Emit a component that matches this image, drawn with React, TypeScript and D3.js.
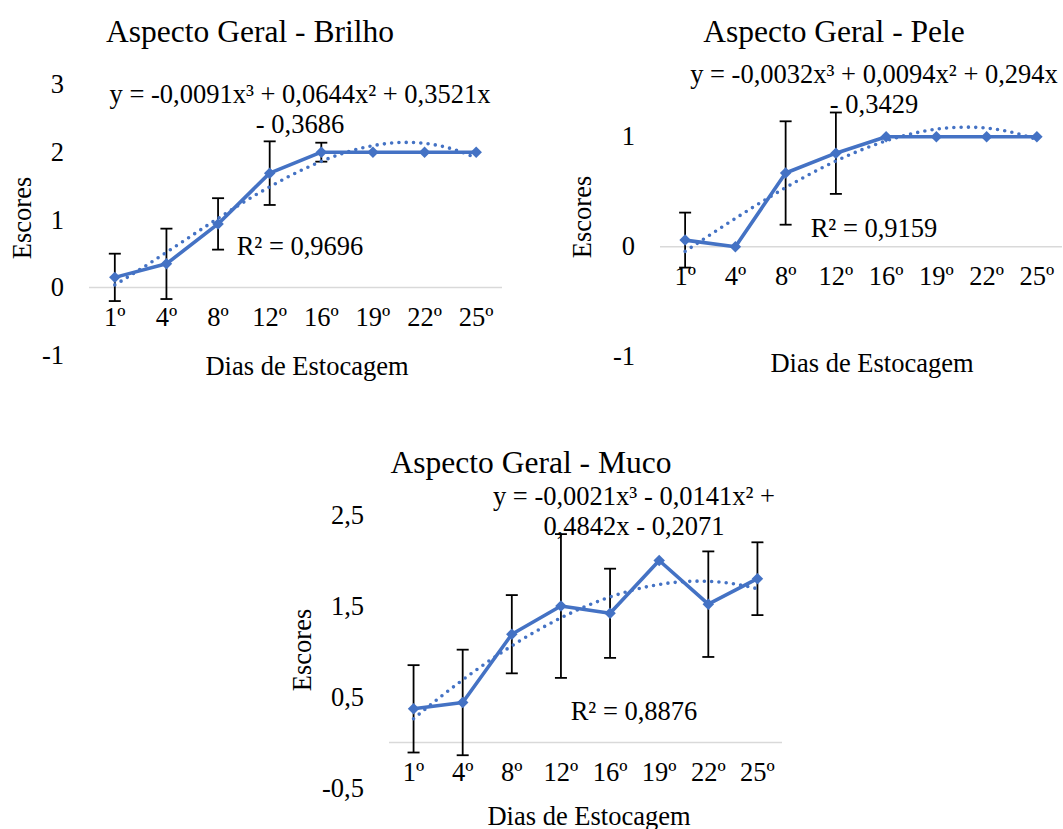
import React from "react";
import * as d3 from "d3";

// categories (dias de estocagem)
const categories = ["1º", "4º", "8º", "12º", "16º", "19º", "22º", "25º"];

// Brilho
const brilhoMeans = [0.15, 0.35, 0.94, 1.69, 2.0, 2.0, 2.0, 2.0];
const brilhoErrors = [0.35, 0.52, 0.38, 0.47, 0.14, 0, 0, 0];
const brilhoCoef = [-0.0091, 0.0644, 0.3521, -0.3686];
const brilhoTicks = [-1, 0, 1, 2, 3];

// Pele
const peleMeans = [0.06, 0.0, 0.67, 0.85, 1.0, 1.0, 1.0, 1.0];
const peleErrors = [0.25, 0, 0.47, 0.37, 0, 0, 0, 0];
const peleCoef = [-0.0032, 0.0094, 0.294, -0.3429];
const peleTicks = [-1, 0, 1];

// Muco
const mucoMeans = [0.37, 0.44, 1.19, 1.5, 1.42, 2.0, 1.52, 1.8];
const mucoErrors = [0.48, 0.58, 0.43, 0.79, 0.49, 0, 0.58, 0.4];
const mucoCoef = [-0.0021, -0.0141, 0.4842, -0.2071];
const mucoTicks = [-0.5, 0.5, 1.5, 2.5];

const BLUE = "#4472C4";
const FONT = "'Liberation Serif', 'Times New Roman', serif";
const FS = 26.5;
const fmt = (v: number) => String(v).replace(".", ",");

type Cfg = {
  title: string;
  titleX: number;
  titleY: number;
  means: number[];
  errors: number[];
  coef: number[];
  ticks: number[];
  left: number;
  right: number;
  domain: [number, number];
  range: [number, number];
  tickLabelX: number;
  yTitleX: number;
  yTitleY: number;
  xTitleX: number;
  xTitleY: number;
  eq: string[];
  eqX: number;
  eqY: number;
  r2: string;
  r2X: number;
  r2Y: number;
};

const charts: Cfg[] = [
  {
    title: "Aspecto Geral - Brilho",
    titleX: 250,
    titleY: 42,
    means: brilhoMeans,
    errors: brilhoErrors,
    coef: brilhoCoef,
    ticks: brilhoTicks,
    left: 89,
    right: 502,
    domain: [-1, 3],
    range: [355.2, 84.5],
    tickLabelX: 64,
    yTitleX: 31,
    yTitleY: 218,
    xTitleX: 307,
    xTitleY: 375,
    eq: ["y = -0,0091x³ + 0,0644x² + 0,3521x", "- 0,3686"],
    eqX: 300,
    eqY: 103,
    r2: "R² = 0,9696",
    r2X: 300,
    r2Y: 255,
  },
  {
    title: "Aspecto Geral - Pele",
    titleX: 834,
    titleY: 42,
    means: peleMeans,
    errors: peleErrors,
    coef: peleCoef,
    ticks: peleTicks,
    left: 660,
    right: 1062,
    domain: [-1, 1],
    range: [356.7, 136.7],
    tickLabelX: 635,
    yTitleX: 591,
    yTitleY: 217,
    xTitleX: 872,
    xTitleY: 372,
    eq: ["y = -0,0032x³ + 0,0094x² + 0,294x", "- 0,3429"],
    eqX: 874,
    eqY: 83,
    r2: "R² = 0,9159",
    r2X: 874,
    r2Y: 237,
  },
  {
    title: "Aspecto Geral - Muco",
    titleX: 531,
    titleY: 473,
    means: mucoMeans,
    errors: mucoErrors,
    coef: mucoCoef,
    ticks: mucoTicks,
    left: 389,
    right: 782,
    domain: [-0.5, 2.5],
    range: [788, 515],
    tickLabelX: 364,
    yTitleX: 311,
    yTitleY: 650,
    xTitleX: 589,
    xTitleY: 825,
    eq: ["y = -0,0021x³ - 0,0141x² +", "0,4842x - 0,2071"],
    eqX: 634,
    eqY: 505,
    r2: "R² = 0,8876",
    r2X: 634,
    r2Y: 720,
  },
];

function Chart({ cfg }: { cfg: Cfg }) {
  const x = d3.scaleBand().domain(categories).range([cfg.left, cfg.right]);
  const xi = d3.scaleLinear().domain([0.5, categories.length + 0.5]).range([cfg.left, cfg.right]);
  const y = d3.scaleLinear().domain(cfg.domain).range(cfg.range);
  const cx = (c: string) => (x(c) as number) + x.bandwidth() / 2;

  const line = d3
    .line<number>()
    .x((_, i) => cx(categories[i]))
    .y((d) => y(d));

  // polynomial trendline from the displayed equation
  const [a, b, c, d] = cfg.coef;
  const trendX = d3.range(1, categories.length + 0.001, 0.05);
  const trend = d3
    .line<number>()
    .x((t) => xi(t))
    .y((t) => y(a * t * t * t + b * t * t + c * t + d));

  const diamond = d3.symbol(d3.symbolSquare, 66)();
  const y0 = y(0);

  return (
    <g fontFamily={FONT} fill="#000">
      <text x={cfg.titleX} y={cfg.titleY} fontSize={31.5} textAnchor="middle">
        {cfg.title}
      </text>

      {/* y axis labels */}
      {cfg.ticks.map((t) => (
        <text key={t} x={cfg.tickLabelX} y={y(t)} dy="0.33em" fontSize={FS} textAnchor="end">
          {fmt(t)}
        </text>
      ))}

      {/* zero line */}
      <line x1={cfg.left} x2={cfg.right} y1={y0} y2={y0} stroke="#d9d9d9" strokeWidth={1.5} />

      {/* x labels */}
      {categories.map((cat) => (
        <text key={cat} x={cx(cat)} y={y0 + 38.5} fontSize={FS} textAnchor="middle">
          {cat}
        </text>
      ))}

      {/* error bars */}
      {cfg.means.map((m, i) =>
        cfg.errors[i] > 0 ? (
          <g key={i} stroke="#000" strokeWidth={1.8}>
            <line x1={cx(categories[i])} x2={cx(categories[i])} y1={y(m - cfg.errors[i])} y2={y(m + cfg.errors[i])} />
            <line x1={cx(categories[i]) - 6} x2={cx(categories[i]) + 6} y1={y(m + cfg.errors[i])} y2={y(m + cfg.errors[i])} />
            <line x1={cx(categories[i]) - 6} x2={cx(categories[i]) + 6} y1={y(m - cfg.errors[i])} y2={y(m - cfg.errors[i])} />
          </g>
        ) : null
      )}

      <path d={line(cfg.means) || ""} fill="none" stroke={BLUE} strokeWidth={3.6} strokeLinejoin="round" />
      {cfg.means.map((m, i) => (
        <path
          key={i}
          d={diamond || ""}
          fill={BLUE}
          transform={`translate(${cx(categories[i])},${y(m)}) rotate(45)`}
        />
      ))}

      <path
        d={trend(trendX) || ""}
        fill="none"
        stroke={BLUE}
        strokeWidth={3.6}
        strokeDasharray="0 7.3"
        strokeLinecap="round"
      />

      {/* equation and R² */}
      {cfg.eq.map((s, i) => (
        <text key={i} x={cfg.eqX} y={cfg.eqY + i * 30} fontSize={FS} textAnchor="middle">
          {s}
        </text>
      ))}
      <text x={cfg.r2X} y={cfg.r2Y} fontSize={FS} textAnchor="middle">
        {cfg.r2}
      </text>

      {/* axis titles */}
      <text
        transform={`translate(${cfg.yTitleX},${cfg.yTitleY}) rotate(-90)`}
        fontSize={FS}
        textAnchor="middle"
      >
        Escores
      </text>
      <text x={cfg.xTitleX} y={cfg.xTitleY} fontSize={FS} textAnchor="middle">
        Dias de Estocagem
      </text>
    </g>
  );
}

export default function App() {
  return (
    <div style={{ position: "absolute", left: 0, top: 0 }}>
      <svg width={1063} height={829} style={{ display: "block", background: "#fff" }}>
        {charts.map((cfg, i) => (
          <Chart key={i} cfg={cfg} />
        ))}
      </svg>
    </div>
  );
}
